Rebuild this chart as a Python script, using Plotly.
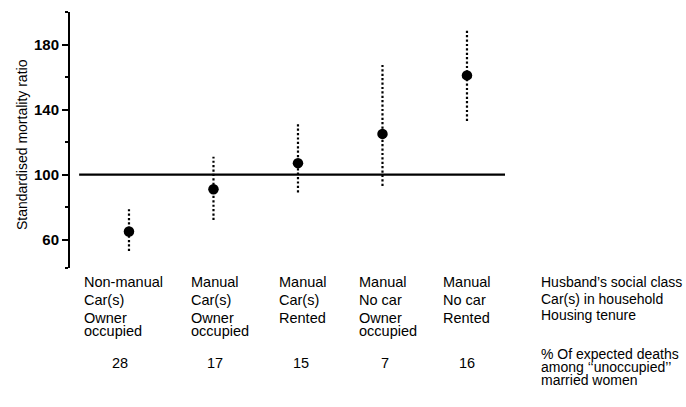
import plotly.graph_objects as go

# ---- data ----
social_class = ["Non-manual", "Manual", "Manual", "Manual", "Manual"]
cars = ["Car(s)", "Car(s)", "Car(s)", "No car", "No car"]
tenure = ["Owner occupied", "Owner occupied", "Rented", "Owner occupied", "Rented"]
smr = [65, 91, 107, 125, 161]
ci_low = [53, 72, 89, 93, 133]
ci_high = [80, 111, 131, 168, 189]
pct_expected_deaths = [28, 17, 15, 7, 16]
reference_smr = 100
y_tick_values = [60, 100, 140, 180]
y_minor_values = [42.5, 80, 120, 160, 200]
row_headers = ["Husband\u2019s social class", "Car(s) in household", "Housing tenure"]
number_header = ["% Of expected deaths", "among \u2018\u2018unoccupied\u2019\u2019", "married women"]
y_title = "Standardised mortality ratio"

# ---- layout constants (pixels) ----
W, H = 686, 407
ML, MR, MT, MB = 70, 0, 12, 139
X_RANGE = [0.302, 7.592]
Y_RANGE = [42.5, 200]
REF_LINE_X = [0.41, 5.45]
FONT = "Liberation Sans, Arial, Helvetica, sans-serif"
plot_bottom = H - MB
label_left_offset = [47, 24, 21, 25, 26]
number_shift = [-9, 2, 3, 3, 0]
row_px = [282, 300, 318]
tight_gap = 12.5
number_row_px = 363
header_rows_px = [282, 298.5, 315]
number_header_px = [354, 367, 380]
header_left_px = 539

xs = list(range(1, len(smr) + 1))

fig = go.Figure()

# dotted confidence intervals
ex, ey = [], []
for x, lo, hi in zip(xs, ci_low, ci_high):
    ex += [x, x, None]
    ey += [lo, hi, None]
fig.add_trace(go.Scatter(x=ex, y=ey, mode="lines",
                         line=dict(color="black", width=2.2, dash="2.2px,2.2px"),
                         hoverinfo="skip", showlegend=False))

# points
fig.add_trace(go.Scatter(x=xs, y=smr, mode="markers",
                         marker=dict(color="black", size=10.5),
                         showlegend=False))

# reference line
fig.add_shape(type="line", xref="x", yref="y", x0=REF_LINE_X[0], x1=REF_LINE_X[1],
              y0=reference_smr, y1=reference_smr, line=dict(color="black", width=2.2),
              layer="below")

annotations = []
def ann(text, x, xref, py, xanchor="left", xshift=0, size=14.5):
    annotations.append(dict(text=text, x=x, xref=xref, y=0, yref="paper",
                            yshift=-(py - plot_bottom), yanchor="middle",
                            xanchor=xanchor, xshift=xshift, showarrow=False,
                            font=dict(family=FONT, size=size, color="black")))

for i, x in enumerate(xs):
    off = -label_left_offset[i]
    ann(social_class[i], x, "x", row_px[0], xshift=off)
    ann(cars[i], x, "x", row_px[1], xshift=off)
    parts = tenure[i].split(" ")
    for j, p in enumerate(parts):
        ann(p, x, "x", row_px[2] + j * tight_gap, xshift=off)
    ann(str(pct_expected_deaths[i]), x, "x", number_row_px, xanchor="center",
        xshift=number_shift[i])

hx = (header_left_px - ML) / (W - ML - MR)
for t, py in zip(row_headers, header_rows_px):
    ann(t, hx, "paper", py, size=14)
for t, py in zip(number_header, number_header_px):
    ann(t, hx, "paper", py, size=14)

# y title
annotations.append(dict(text=y_title, x=(22 - ML) / (W - ML - MR), xref="paper",
                        y=0.5, yref="paper", yshift=-5, textangle=-90, showarrow=False,
                        xanchor="center", yanchor="middle",
                        font=dict(family=FONT, size=14, color="black")))

fig.update_layout(
    width=W, height=H, margin=dict(l=ML, r=MR, t=MT, b=MB, pad=0),
    paper_bgcolor="white", plot_bgcolor="white", showlegend=False,
    annotations=annotations,
    xaxis=dict(range=X_RANGE, visible=False, fixedrange=True),
    yaxis=dict(range=Y_RANGE, showline=True, linecolor="black", linewidth=2,
               showgrid=False, zeroline=False, ticks="outside", ticklen=6,
               tickwidth=2, tickcolor="black", tickmode="array",
               tickvals=y_tick_values,
               tickfont=dict(family=FONT, size=15, color="black", weight="bold"),
               minor=dict(tickmode="array", tickvals=y_minor_values, ticks="outside",
                          ticklen=3, tickwidth=2, tickcolor="black", showgrid=False)),
)

fig.write_html("out.html", config={"displayModeBar": False},
               post_script="document.body.style.margin='0';document.body.style.overflow='hidden';")
